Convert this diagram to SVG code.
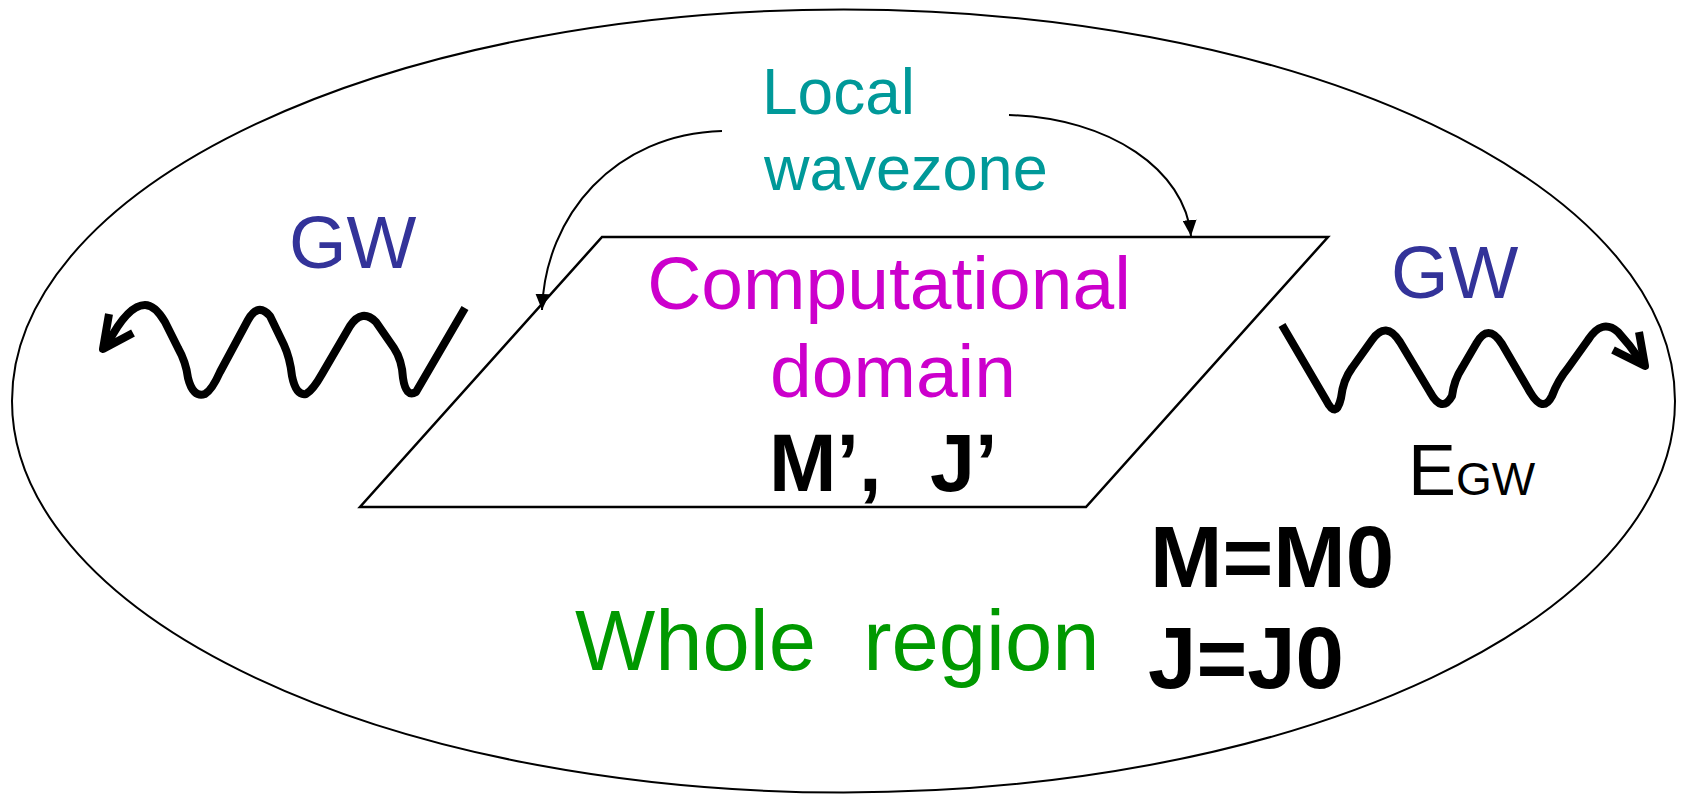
<svg xmlns="http://www.w3.org/2000/svg" width="1681" height="796" viewBox="0 0 1681 796">
<style>
.t{font-family:"Liberation Sans",Arial,sans-serif}
.b{font-family:"Liberation Sans",Arial,sans-serif;font-weight:bold;fill:#000}
.wave{fill:none;stroke:#000;stroke-width:8;stroke-linecap:butt;stroke-linejoin:round}
.conn{fill:none;stroke:#000;stroke-width:2}
</style>
<defs>
<marker id="ah" markerUnits="userSpaceOnUse" markerWidth="16" markerHeight="14" viewBox="0 0 16 14" refX="16" refY="7" orient="auto">
<path d="M0,0 L16,7 L0,14 z" fill="#000"/>
</marker>
</defs>
<rect width="1681" height="796" fill="#fff"/>
<g id="whole-region">
<ellipse cx="843.5" cy="401" rx="831.5" ry="391.5" fill="none" stroke="#000" stroke-width="2"/>
<text class="t" x="575" y="670" font-size="85" fill="#009900" xml:space="preserve">Whole  region</text>
</g>
<g id="computational-domain">
<polygon points="602,237 1328,237 1086,507 360,507" fill="none" stroke="#000" stroke-width="2.5"/>
<text class="t" x="889" y="309" font-size="75" fill="#CC00CC" text-anchor="middle">Computational</text>
<text class="t" x="893" y="397" font-size="75" fill="#CC00CC" text-anchor="middle">domain</text>
<text class="b" x="769" y="491" font-size="81">M’,<tspan x="930">J’</tspan></text>
</g>
<g id="local-wavezone">
<text class="t" x="762" y="114" font-size="64" fill="#009999">Local</text>
<text class="t" x="764" y="190" font-size="63" fill="#009999">wavezone</text>
</g>
<g id="gw-left">
<text class="t" x="289" y="268" font-size="74" fill="#333399">GW</text>
<path class="wave" d="M108,343 Q128,305 145,305 Q155,305 165,322 L178,348 Q186,362 188,378 Q193,398 205,394 Q212,390 220,372 L248,320 Q258,302 270,316 L284,345 Q290,358 292,376 Q296,396 306,394 Q313,390 322,374 L350,326 Q362,308 376,322 L394,348 Q402,360 403,378 Q406,398 416,392 L465,308"/>
<path class="wave" d="M109,314 L103,349 L133,333" stroke-linejoin="miter" stroke-linecap="round"/>
</g>
<g id="gw-right">
<text class="t" x="1391" y="298" font-size="74" fill="#333399">GW</text>
<path class="wave" d="M1282,325 L1326,400 Q1336,420 1341,398 Q1343,380 1352,368 L1372,340 Q1386,320 1400,342 L1430,392 Q1442,414 1452,396 Q1454,380 1462,368 L1476,344 Q1488,322 1502,344 L1530,392 Q1543,414 1552,396 Q1558,380 1568,368 L1588,340 Q1602,318 1618,332 Q1630,345 1640,360"/>
<path class="wave" d="M1639,332 L1645,366 L1613,350" stroke-linejoin="miter" stroke-linecap="round"/>
<text class="t" x="1408" y="495" font-size="72" fill="#000">E<tspan font-size="46">GW</tspan></text>
</g>
<g id="conserved">
<text class="b" x="1150" y="587" font-size="87">M=M0</text>
<text class="b" x="1148" y="688" font-size="87">J=J0</text>
</g>
<g id="connectors">
<path class="conn" d="M722,131 C615,134 545,215 542,310" marker-end="url(#ah)"/>
<path class="conn" d="M1009,115 C1110,118 1185,170 1191,236" marker-end="url(#ah)"/>
</g>
</svg>
